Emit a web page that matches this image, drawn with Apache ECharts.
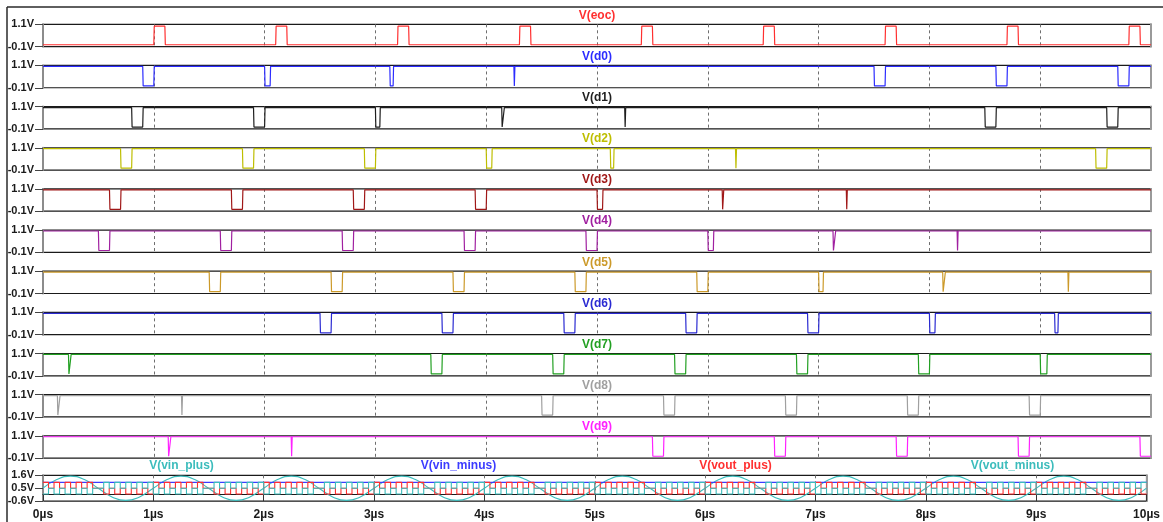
<!DOCTYPE html>
<html>
<head>
<meta charset="utf-8">
<script src="https://cdn.jsdelivr.net/npm/echarts@6/dist/echarts.min.js"></script>
<style>
  html, body { margin: 0; padding: 0; background: #ffffff; }
  #chart { width: 1163px; height: 522px; }
</style>
</head>
<body>
<div id="chart"></div>
<script>
// ---- data (times in µs, levels in V) ----
const timeLabels = ['0µs', '1µs', '2µs', '3µs', '4µs', '5µs', '6µs', '7µs', '8µs', '9µs', '10µs'];
const digitalTicks = [-0.1, 1.1];
const analogTicks = [-0.6, 0.5, 1.6];

const digitalNames = ['V(eoc)', 'V(d0)', 'V(d1)', 'V(d2)', 'V(d3)', 'V(d4)', 'V(d5)', 'V(d6)', 'V(d7)', 'V(d8)', 'V(d9)'];
const analogNames = ['V(vin_plus)', 'V(vin_minus)', 'V(vout_plus)', 'V(vout_minus)'];

// end-of-conversion: high pulses on a low baseline
const eocPulses = [[1.0, 1.1], [2.1, 2.2], [3.2, 3.3], [4.3, 4.4], [5.4, 5.5], [6.5, 6.6], [7.6, 7.7], [8.7, 8.8], [9.8, 9.9]];
// output bits: low dips on a high baseline
const d0Dips = [[0.9, 1.0], [2.0, 2.05], [3.13, 3.16], [4.25, 4.255], [7.5, 7.6], [8.6, 8.7], [9.7, 9.8]];
const d1Dips = [[0.8, 0.9], [1.9, 2.0], [3.0, 3.04], [4.14, 4.16], [5.25, 5.255], [8.5, 8.6], [9.6, 9.7]];
const d2Dips = [[0.7, 0.8], [1.8, 1.9], [2.9, 3.0], [4.0, 4.05], [5.12, 5.15], [6.25, 6.255], [9.5, 9.6]];
const d3Dips = [[0.6, 0.7], [1.7, 1.8], [2.8, 2.9], [3.9, 4.0], [5.0, 5.05], [6.13, 6.14], [7.25, 7.255]];
const d4Dips = [[0.5, 0.6], [1.6, 1.7], [2.7, 2.8], [3.8, 3.9], [4.9, 5.0], [6.0, 6.05], [7.13, 7.15], [8.25, 8.255]];
const d5Dips = [[1.5, 1.6], [2.6, 2.7], [3.7, 3.8], [4.8, 4.9], [5.9, 6.0], [7.0, 7.04], [8.12, 8.14], [9.25, 9.255]];
const d6Dips = [[2.5, 2.6], [3.6, 3.7], [4.7, 4.8], [5.8, 5.9], [6.9, 7.0], [8.0, 8.05], [9.13, 9.16]];
const d7Dips = [[0.23, 0.25], [3.5, 3.6], [4.6, 4.7], [5.7, 5.8], [6.8, 6.9], [7.9, 8.0], [9.0, 9.06]];
const d8Dips = [[0.13, 0.15], [1.25, 1.255], [4.5, 4.6], [5.6, 5.7], [6.7, 6.8], [7.8, 7.9], [8.9, 9.0]];
const d9Dips = [[1.13, 1.15], [2.24, 2.245], [5.5, 5.6], [6.6, 6.7], [7.7, 7.8], [8.8, 8.9], [9.9, 10.0]];

// input sine, sampled every 0.125 µs (one row per µs) plus the end point
const vinPlusStep = 0.125;
const vinPlusRows = [
  [0.50, 1.24, 1.53, 1.24, 0.50, -0.24, -0.54, -0.24],
  [0.50, 1.24, 1.53, 1.24, 0.50, -0.24, -0.54, -0.24],
  [0.50, 1.24, 1.53, 1.24, 0.50, -0.24, -0.54, -0.24],
  [0.50, 1.24, 1.53, 1.24, 0.50, -0.24, -0.54, -0.24],
  [0.50, 1.24, 1.53, 1.24, 0.50, -0.24, -0.54, -0.24],
  [0.50, 1.24, 1.53, 1.24, 0.50, -0.24, -0.54, -0.24],
  [0.50, 1.24, 1.53, 1.24, 0.50, -0.24, -0.54, -0.24],
  [0.50, 1.24, 1.53, 1.24, 0.50, -0.24, -0.54, -0.24],
  [0.50, 1.24, 1.53, 1.24, 0.50, -0.24, -0.54, -0.24],
  [0.50, 1.24, 1.53, 1.24, 0.50, -0.24, -0.54, -0.24]
];
const vinPlusLast = 0.50;

// reference input: flat level
const vinMinusTimes = [0, 10];
const vinMinusValues = [1.0, 1.0];

// DAC outputs: one level code per 0.05 µs (H = 1.0 V, M = 0.5 V, L = 0.0 V), one row per µs
const levelStep = 0.05;
const levelCodes = { H: 1.0, M: 0.5, L: 0.0 };
const voutPlusRows = [
  'HMHMHMHMHMMLMLMLMLML', 'HMHMHMHMHMMLMLMLMLML', 'HMHMHMHMHMMLMLMLMLML', 'HMHMHMHMHMMLMLMLMLML', 'HMHMHMHMHMMLMLMLMLML',
  'HMHMHMHMHMMLMLMLMLML', 'HMHMHMHMHMMLMLMLMLML', 'HMHMHMHMHMMLMLMLMLML', 'HMHMHMHMHMMLMLMLMLML', 'HMHMHMHMHMMLMLMLMLML'
];
const voutMinusRows = [
  'LMLMLMLMLMMHMHMHMHMH', 'LMLMLMLMLMMHMHMHMHMH', 'LMLMLMLMLMMHMHMHMHMH', 'LMLMLMLMLMMHMHMHMHMH', 'LMLMLMLMLMMHMHMHMHMH',
  'LMLMLMLMLMMHMHMHMHMH', 'LMLMLMLMLMMHMHMHMHMH', 'LMLMLMLMLMMHMHMHMHMH', 'LMLMLMLMLMMHMHMHMHMH', 'LMLMLMLMLMMHMHMHMHMH'
];

// ---- styling ----
const digitalColors = ['#ff3030', '#2c2cff', '#1e1e1e', '#bebe00', '#a01818', '#a020a0', '#cc9a2a', '#2a2ad2', '#22a022', '#a0a0a0', '#ff22ff'];
const analogColors = ['#3cbcbc', '#3c3cff', '#ff3030', '#3cbcbc'];
const FONT = '"Liberation Sans", Arial, sans-serif';
const PLOT_LEFT = 43, PLOT_RIGHT = 12;
const TOP0 = 24.3, STEP = 41.15, PANEL_H = 22.3;
const ANALOG_TOP = 475.3, ANALOG_H = 25.8;
const T_END = 10;
const EDGE = 0.004;

// a digital trace built from its pulse list
function digitalTrace(pulses, base, alt) {
  const pts = [[0, base]];
  for (const [a, b] of pulses) {
    pts.push([a, base], [a + EDGE, alt]);
    if (b >= T_END) { pts.push([T_END, alt]); return pts; }
    pts.push([Math.max(b, a + EDGE), alt], [Math.max(b, a + EDGE) + EDGE, base]);
  }
  pts.push([T_END, base]);
  return pts;
}

function codedTrace(rows) {
  const pts = [];
  let i = 0;
  rows.forEach(row => {
    for (const c of row) { pts.push([+(i * levelStep).toFixed(3), levelCodes[c]]); i++; }
  });
  pts.push([T_END, pts[pts.length - 1][1]]);
  return pts;
}

function sampledTrace(rows, step, last) {
  const pts = [];
  let i = 0;
  rows.forEach(row => row.forEach(v => { pts.push([+(i * step).toFixed(3), v]); i++; }));
  pts.push([+(i * step).toFixed(3), last]);
  return pts;
}

const digitalPulses = [eocPulses, d0Dips, d1Dips, d2Dips, d3Dips, d4Dips, d5Dips, d6Dips, d7Dips, d8Dips, d9Dips];

const grids = [], xAxes = [], yAxes = [], series = [], graphics = [];

const dashed = { show: true, showMinLine: false, showMaxLine: false, lineStyle: { color: '#6e6e6e', width: 1, type: [3, 3] } };

function addPanel(idx, top, height, ticks, isBottom) {
  grids.push({ left: PLOT_LEFT, right: PLOT_RIGHT, top: top, height: height, show: true,
    borderColor: '#1a1a1a', borderWidth: 1.2, backgroundColor: 'transparent' });
  xAxes.push({
    type: 'value', gridIndex: idx, min: 0, max: T_END, interval: 1,
    axisLine: { show: isBottom, lineStyle: { color: '#1a1a1a', width: 1.2 } },
    axisTick: { show: isBottom, length: 7, lineStyle: { color: '#333' } },
    axisLabel: { show: isBottom, margin: 8, color: '#1a1a1a', fontWeight: 'bold', fontSize: 12, fontFamily: FONT,
      formatter: v => timeLabels[Math.round(v)] },
    splitLine: dashed
  });
  yAxes.push({
    type: 'value', gridIndex: idx, min: ticks[0], max: ticks[ticks.length - 1], position: 'left',
    axisLine: { show: true, lineStyle: { color: '#8c8c8c', width: 2 } },
    axisTick: { show: true, length: 8, customValues: ticks, lineStyle: { color: '#444', width: 1 } },
    axisLabel: { show: true, customValues: ticks, margin: 9, color: '#1a1a1a', fontWeight: 'bold', fontSize: 11,
      fontFamily: FONT, formatter: v => v.toFixed(1) + 'V' },
    splitLine: { show: false }
  });
  yAxes.push({
    type: 'value', gridIndex: idx, min: ticks[0], max: ticks[ticks.length - 1], position: 'right',
    axisLine: { show: true, lineStyle: { color: '#9a9a9a', width: 2 } },
    axisTick: { show: false }, axisLabel: { show: false }, splitLine: { show: false }
  });
}

digitalNames.forEach((name, i) => {
  const top = TOP0 + STEP * i;
  addPanel(i, top, PANEL_H, digitalTicks, false);
  const isEoc = i === 0;
  series.push({
    name: name, type: 'line', xAxisIndex: i, yAxisIndex: 2 * i,
    data: digitalTrace(digitalPulses[i], isEoc ? 0.0 : 1.05, isEoc ? 1.0 : 0.0),
    showSymbol: false, silent: true,
    lineStyle: { color: digitalColors[i], width: 1.2 }
  });
  graphics.push({ type: 'text', x: PLOT_LEFT + (1163 - PLOT_LEFT - PLOT_RIGHT) / 2, y: top - 9,
    style: { text: name, fill: digitalColors[i], font: 'bold 12px ' + FONT,
      align: 'center', verticalAlign: 'middle', textAlign: 'center', textVerticalAlign: 'middle' } });
});

// analog panel
const aIdx = digitalNames.length;
addPanel(aIdx, ANALOG_TOP, ANALOG_H, analogTicks, true);
const analogData = [
  sampledTrace(vinPlusRows, vinPlusStep, vinPlusLast),
  vinMinusTimes.map((t, k) => [t, vinMinusValues[k]]),
  codedTrace(voutPlusRows),
  codedTrace(voutMinusRows)
];
analogNames.forEach((name, k) => {
  series.push({
    name: name, type: 'line', xAxisIndex: aIdx, yAxisIndex: 2 * aIdx,
    data: analogData[k], showSymbol: false, silent: true,
    smooth: k === 0 ? 0.5 : false,
    step: (k >= 2) ? 'end' : false,
    lineStyle: { color: analogColors[k], width: 1.1 }
  });
  const quarter = (1163 - PLOT_LEFT - PLOT_RIGHT) / 4;
  graphics.push({ type: 'text', x: PLOT_LEFT + quarter * (k + 0.5), y: 466,
    style: { text: name, fill: analogColors[k], font: 'bold 12px ' + FONT,
      align: 'center', verticalAlign: 'middle', textAlign: 'center', textVerticalAlign: 'middle' } });
});

// window frame
graphics.push({ type: 'line', shape: { x1: 7, y1: 7, x2: 1163, y2: 7 }, style: { stroke: '#2a2a2a', lineWidth: 1.5 } });
graphics.push({ type: 'line', shape: { x1: 7, y1: 7, x2: 7, y2: 522 }, style: { stroke: '#2a2a2a', lineWidth: 1.5 } });

const chart = echarts.init(document.getElementById('chart'), null, { renderer: 'canvas' });
chart.setOption({
  animation: false,
  backgroundColor: '#ffffff',
  grid: grids,
  xAxis: xAxes,
  yAxis: yAxes,
  series: series,
  graphic: graphics
});
</script>
</body>
</html>
